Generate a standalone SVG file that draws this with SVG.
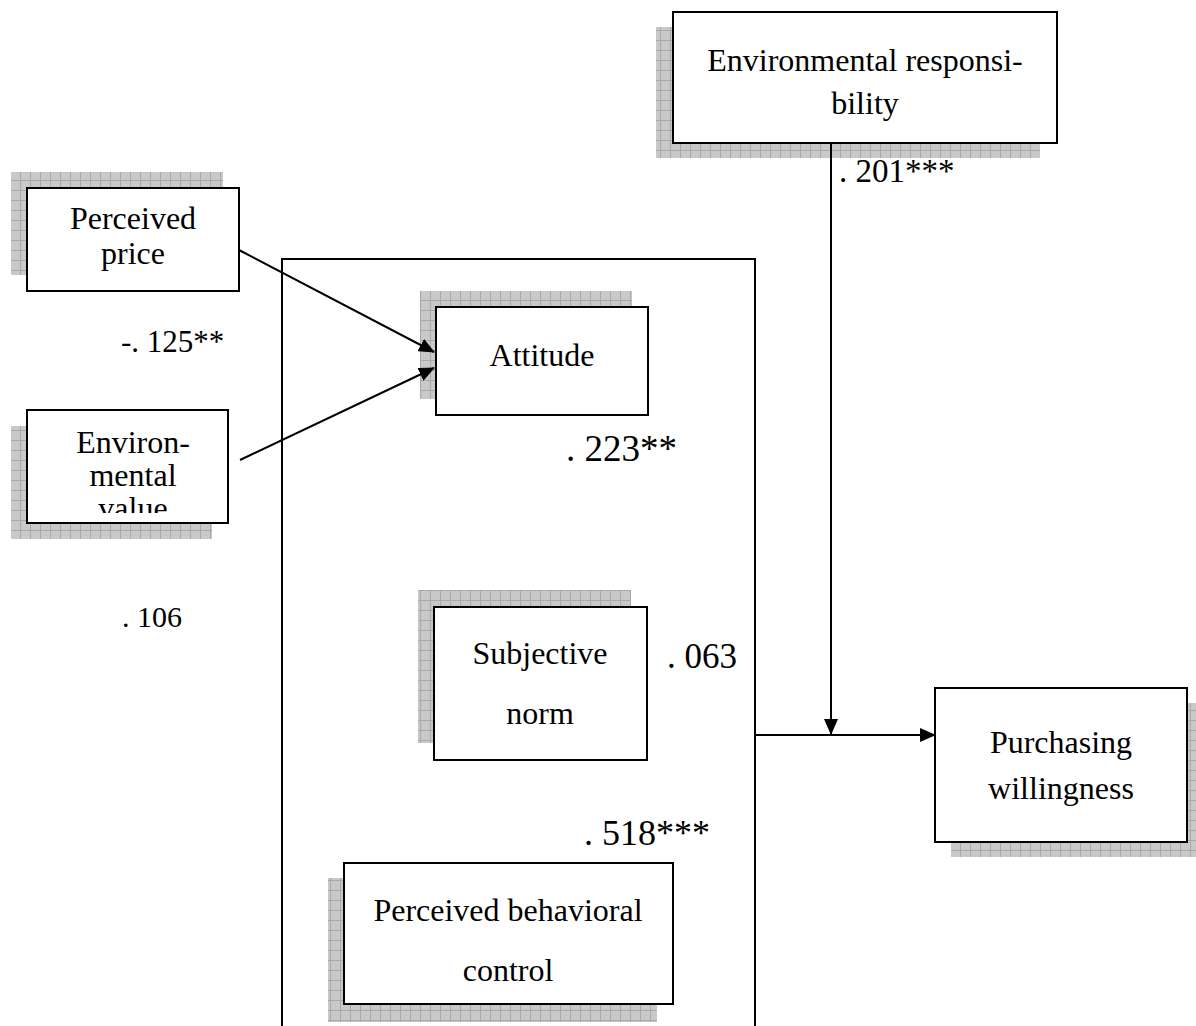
<svg xmlns="http://www.w3.org/2000/svg" width="1196" height="1026" viewBox="0 0 1196 1026">
<style>
.box{fill:#fff;stroke:#000;stroke-width:2}
.sh{fill:url(#grid)}
.t{font-family:"Liberation Serif","Times New Roman",serif;font-size:32px;fill:#000;text-anchor:middle}
.n{font-family:"Liberation Serif","Times New Roman",serif;fill:#000}
.c{stroke:#000;stroke-width:2;fill:none}
</style>
<defs>
<pattern id="grid" patternUnits="userSpaceOnUse" width="10" height="10">
<rect width="10" height="10" fill="#c9c9c9"/>
<path d="M0 0.5H10M0.5 0V10" stroke="#a9a9a9" stroke-width="1"/>
</pattern>
<marker id="arr" markerUnits="userSpaceOnUse" markerWidth="16" markerHeight="14" refX="15" refY="7" orient="auto">
<path d="M0 0L16 7L0 14Z" fill="#000"/>
</marker>
<clipPath id="evclip"><rect x="27" y="410" width="201" height="103"/></clipPath>
</defs>
<rect width="1196" height="1026" fill="#fff"/>

<g id="frame">
<path class="c" d="M282 1026V259H755V1026"/>
</g>

<g id="perceived-price">
<rect class="sh" x="11" y="172" width="212" height="103"/>
<rect class="box" x="27" y="188" width="212" height="103"/>
<text class="t" x="133" y="229">Perceived</text>
<text class="t" x="133" y="264">price</text>
</g>

<g id="environmental-value">
<rect class="sh" x="11" y="426" width="201" height="113"/>
<rect class="box" x="27" y="410" width="201" height="113"/>
<g clip-path="url(#evclip)">
<text class="t" x="133" y="453">Environ-</text>
<text class="t" x="133" y="486">mental</text>
<text class="t" x="133" y="519">value</text>
</g>
</g>

<g id="environmental-responsibility">
<rect class="sh" x="656" y="27" width="384" height="131"/>
<rect class="box" x="673" y="12" width="384" height="131"/>
<text class="t" x="865" y="71">Environmental responsi-</text>
<text class="t" x="865" y="114">bility</text>
</g>

<g id="attitude">
<rect class="sh" x="420" y="291" width="212" height="108"/>
<rect class="box" x="436" y="307" width="212" height="108"/>
<text class="t" x="542" y="366">Attitude</text>
</g>

<g id="subjective-norm">
<rect class="sh" x="418" y="590" width="213" height="153"/>
<rect class="box" x="434" y="607" width="213" height="153"/>
<text class="t" x="540" y="664">Subjective</text>
<text class="t" x="540" y="724">norm</text>
</g>

<g id="perceived-behavioral-control">
<rect class="sh" x="328" y="878" width="329" height="144"/>
<rect class="box" x="344" y="863" width="329" height="141"/>
<text class="t" x="508" y="921">Perceived behavioral</text>
<text class="t" x="508" y="981">control</text>
</g>

<g id="purchasing-willingness">
<rect class="sh" x="951" y="703" width="252" height="154"/>
<rect class="box" x="935" y="688" width="252" height="154"/>
<text class="t" x="1061" y="753">Purchasing</text>
<text class="t" x="1061" y="799">willingness</text>
</g>

<g id="connectors">
<line class="c" x1="239" y1="250" x2="434" y2="352" marker-end="url(#arr)"/>
<line class="c" x1="240" y1="460" x2="434" y2="368" marker-end="url(#arr)"/>
<line class="c" x1="831" y1="143" x2="831" y2="734" marker-end="url(#arr)"/>
<line class="c" x1="755" y1="735" x2="935" y2="735" marker-end="url(#arr)"/>
</g>

<g id="labels">
<text class="n" x="121" y="352" font-size="31">-. 125**</text>
<text class="n" x="122" y="627" font-size="30">. 106</text>
<text class="n" x="566" y="461" font-size="37">. 223**</text>
<text class="n" x="667" y="668" font-size="35">. 063</text>
<text class="n" x="584" y="845" font-size="36">. 518***</text>
<text class="n" x="839" y="182" font-size="33">. 201***</text>
</g>
</svg>
